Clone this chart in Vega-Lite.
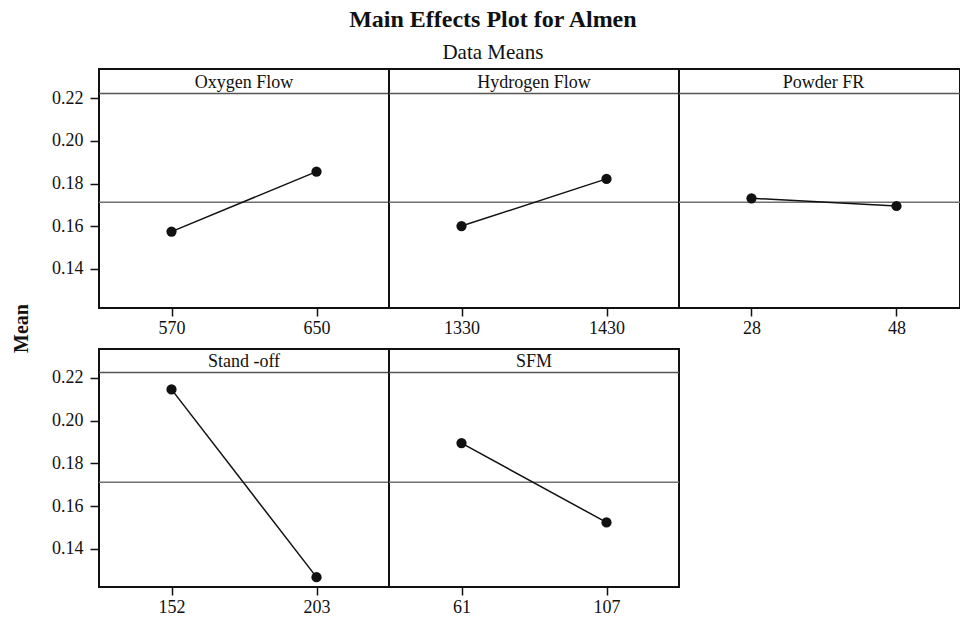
{
  "$schema": "https://vega.github.io/schema/vega-lite/v6.json",
  "padding": {"left": 10, "top": 8, "right": 0, "bottom": 0},
  "background": "white",
  "title": {"text": "Main Effects Plot for Almen", "subtitle": "Data Means", "font": "Liberation Serif", "fontSize": 24, "fontWeight": "bold", "color": "#111", "subtitleFont": "Liberation Serif", "subtitleFontSize": 21, "subtitleColor": "#111", "subtitlePadding": 10, "offset": 5, "anchor": "middle", "dx": 7},
  "datasets": {
    "effects": [
      {"factor": "Oxygen Flow", "level": 570, "mean": 0.1575},
      {"factor": "Oxygen Flow", "level": 650, "mean": 0.1856},
      {"factor": "Hydrogen Flow", "level": 1330, "mean": 0.1601},
      {"factor": "Hydrogen Flow", "level": 1430, "mean": 0.1822},
      {"factor": "Powder FR", "level": 28, "mean": 0.1731},
      {"factor": "Powder FR", "level": 48, "mean": 0.1695},
      {"factor": "Stand -off", "level": 152, "mean": 0.2146},
      {"factor": "Stand -off", "level": 203, "mean": 0.1268},
      {"factor": "SFM", "level": 61, "mean": 0.1895},
      {"factor": "SFM", "level": 107, "mean": 0.1524}
    ],
    "grand": [{"mean": 0.1712}],
    "panels": [{"factor": "Oxygen Flow"}, {"factor": "Hydrogen Flow"}, {"factor": "Powder FR"}, {"factor": "Stand -off"}, {"factor": "SFM"}]
  },
  "columns": 3,
  "spacing": {"row": 41, "column": 0},
  "bounds": "flush",
  "resolve": {"scale": {"x": "independent", "y": "independent"}},
  "concat": [
    {
      "width": 290, "height": 239,
      "layer": [
        {"data": {"name": "grand"}, "mark": {"type": "rule", "color": "#707070", "strokeWidth": 1.5},
         "encoding": {"y": {"field": "mean", "type": "quantitative", "scale": {"domain": [0.1217, 0.2337], "nice": false, "zero": false}, "axis": {"values": [0.14, 0.16, 0.18, 0.2, 0.22], "format": ".2f", "title": "Mean", "titleX": -78, "titleY": 259, "titleAngle": 270, "titleAlign": "center", "titleBaseline": "middle"}}}},
        {"data": {"name": "panels"}, "transform": [{"filter": "datum.factor === 'Oxygen Flow'"}], "mark": {"type": "rule", "color": "#555", "strokeWidth": 1.5},
         "encoding": {"y": {"datum": 0.2222, "type": "quantitative", "scale": {"domain": [0.1217, 0.2337], "nice": false, "zero": false}, "axis": {"values": [0.14, 0.16, 0.18, 0.2, 0.22], "format": ".2f", "title": "Mean", "titleX": -78, "titleY": 259, "titleAngle": 270, "titleAlign": "center", "titleBaseline": "middle"}}}},
        {"data": {"name": "panels"}, "transform": [{"filter": "datum.factor === 'Oxygen Flow'"}], "mark": {"type": "text", "font": "Liberation Serif", "fontSize": 18, "color": "#111", "baseline": "middle"},
         "encoding": {"y": {"datum": 0.2272, "type": "quantitative", "scale": {"domain": [0.1217, 0.2337], "nice": false, "zero": false}, "axis": {"values": [0.14, 0.16, 0.18, 0.2, 0.22], "format": ".2f", "title": "Mean", "titleX": -78, "titleY": 259, "titleAngle": 270, "titleAlign": "center", "titleBaseline": "middle"}}, "text": {"field": "factor"}}},
        {"data": {"name": "effects"}, "transform": [{"filter": "datum.factor === 'Oxygen Flow'"}], "mark": {"type": "line", "color": "#111", "strokeWidth": 1.5},
         "encoding": {"x": {"field": "level", "type": "ordinal", "scale": {"type": "point", "padding": 0.5}, "axis": {"title": null}},
                      "y": {"field": "mean", "type": "quantitative", "scale": {"domain": [0.1217, 0.2337], "nice": false, "zero": false}, "axis": {"values": [0.14, 0.16, 0.18, 0.2, 0.22], "format": ".2f", "title": "Mean", "titleX": -78, "titleY": 259, "titleAngle": 270, "titleAlign": "center", "titleBaseline": "middle"}}}},
        {"data": {"name": "effects"}, "transform": [{"filter": "datum.factor === 'Oxygen Flow'"}], "mark": {"type": "point", "filled": true, "color": "#111", "opacity": 1, "size": 105},
         "encoding": {"x": {"field": "level", "type": "ordinal", "scale": {"type": "point", "padding": 0.5}, "axis": {"title": null}},
                      "y": {"field": "mean", "type": "quantitative", "scale": {"domain": [0.1217, 0.2337], "nice": false, "zero": false}, "axis": {"values": [0.14, 0.16, 0.18, 0.2, 0.22], "format": ".2f", "title": "Mean", "titleX": -78, "titleY": 259, "titleAngle": 270, "titleAlign": "center", "titleBaseline": "middle"}}}}
      ]
    },
    {
      "width": 290, "height": 239,
      "layer": [
        {"data": {"name": "grand"}, "mark": {"type": "rule", "color": "#707070", "strokeWidth": 1.5},
         "encoding": {"y": {"field": "mean", "type": "quantitative", "scale": {"domain": [0.1217, 0.2337], "nice": false, "zero": false}, "axis": null}}},
        {"data": {"name": "panels"}, "transform": [{"filter": "datum.factor === 'Hydrogen Flow'"}], "mark": {"type": "rule", "color": "#555", "strokeWidth": 1.5},
         "encoding": {"y": {"datum": 0.2222, "type": "quantitative", "scale": {"domain": [0.1217, 0.2337], "nice": false, "zero": false}, "axis": null}}},
        {"data": {"name": "panels"}, "transform": [{"filter": "datum.factor === 'Hydrogen Flow'"}], "mark": {"type": "text", "font": "Liberation Serif", "fontSize": 18, "color": "#111", "baseline": "middle"},
         "encoding": {"y": {"datum": 0.2272, "type": "quantitative", "scale": {"domain": [0.1217, 0.2337], "nice": false, "zero": false}, "axis": null}, "text": {"field": "factor"}}},
        {"data": {"name": "effects"}, "transform": [{"filter": "datum.factor === 'Hydrogen Flow'"}], "mark": {"type": "line", "color": "#111", "strokeWidth": 1.5},
         "encoding": {"x": {"field": "level", "type": "ordinal", "scale": {"type": "point", "padding": 0.5}, "axis": {"title": null}},
                      "y": {"field": "mean", "type": "quantitative", "scale": {"domain": [0.1217, 0.2337], "nice": false, "zero": false}, "axis": null}}},
        {"data": {"name": "effects"}, "transform": [{"filter": "datum.factor === 'Hydrogen Flow'"}], "mark": {"type": "point", "filled": true, "color": "#111", "opacity": 1, "size": 105},
         "encoding": {"x": {"field": "level", "type": "ordinal", "scale": {"type": "point", "padding": 0.5}, "axis": {"title": null}},
                      "y": {"field": "mean", "type": "quantitative", "scale": {"domain": [0.1217, 0.2337], "nice": false, "zero": false}, "axis": null}}}
      ]
    },
    {
      "width": 281, "height": 239,
      "layer": [
        {"data": {"name": "grand"}, "mark": {"type": "rule", "color": "#707070", "strokeWidth": 1.5},
         "encoding": {"y": {"field": "mean", "type": "quantitative", "scale": {"domain": [0.1217, 0.2337], "nice": false, "zero": false}, "axis": null}}},
        {"data": {"name": "panels"}, "transform": [{"filter": "datum.factor === 'Powder FR'"}], "mark": {"type": "rule", "color": "#555", "strokeWidth": 1.5},
         "encoding": {"y": {"datum": 0.2222, "type": "quantitative", "scale": {"domain": [0.1217, 0.2337], "nice": false, "zero": false}, "axis": null}}},
        {"data": {"name": "panels"}, "transform": [{"filter": "datum.factor === 'Powder FR'"}], "mark": {"type": "text", "font": "Liberation Serif", "fontSize": 18, "color": "#111", "baseline": "middle", "dx": 4},
         "encoding": {"y": {"datum": 0.2272, "type": "quantitative", "scale": {"domain": [0.1217, 0.2337], "nice": false, "zero": false}, "axis": null}, "text": {"field": "factor"}}},
        {"data": {"name": "effects"}, "transform": [{"filter": "datum.factor === 'Powder FR'"}], "mark": {"type": "line", "color": "#111", "strokeWidth": 1.5},
         "encoding": {"x": {"field": "level", "type": "ordinal", "scale": {"type": "point", "padding": 0.469, "align": 0.533}, "axis": {"title": null}},
                      "y": {"field": "mean", "type": "quantitative", "scale": {"domain": [0.1217, 0.2337], "nice": false, "zero": false}, "axis": null}}},
        {"data": {"name": "effects"}, "transform": [{"filter": "datum.factor === 'Powder FR'"}], "mark": {"type": "point", "filled": true, "color": "#111", "opacity": 1, "size": 105},
         "encoding": {"x": {"field": "level", "type": "ordinal", "scale": {"type": "point", "padding": 0.469, "align": 0.533}, "axis": {"title": null}},
                      "y": {"field": "mean", "type": "quantitative", "scale": {"domain": [0.1217, 0.2337], "nice": false, "zero": false}, "axis": null}}}
      ]
    },
    {
      "width": 290, "height": 238,
      "layer": [
        {"data": {"name": "grand"}, "mark": {"type": "rule", "color": "#707070", "strokeWidth": 1.5},
         "encoding": {"y": {"field": "mean", "type": "quantitative", "scale": {"domain": [0.1222, 0.2335], "nice": false, "zero": false}, "axis": {"values": [0.14, 0.16, 0.18, 0.2, 0.22], "format": ".2f", "title": null}}}},
        {"data": {"name": "panels"}, "transform": [{"filter": "datum.factor === 'Stand -off'"}], "mark": {"type": "rule", "color": "#555", "strokeWidth": 1.5},
         "encoding": {"y": {"datum": 0.2225, "type": "quantitative", "scale": {"domain": [0.1222, 0.2335], "nice": false, "zero": false}, "axis": {"values": [0.14, 0.16, 0.18, 0.2, 0.22], "format": ".2f", "title": null}}}},
        {"data": {"name": "panels"}, "transform": [{"filter": "datum.factor === 'Stand -off'"}], "mark": {"type": "text", "font": "Liberation Serif", "fontSize": 18, "color": "#111", "baseline": "middle"},
         "encoding": {"y": {"datum": 0.2276, "type": "quantitative", "scale": {"domain": [0.1222, 0.2335], "nice": false, "zero": false}, "axis": {"values": [0.14, 0.16, 0.18, 0.2, 0.22], "format": ".2f", "title": null}}, "text": {"field": "factor"}}},
        {"data": {"name": "effects"}, "transform": [{"filter": "datum.factor === 'Stand -off'"}], "mark": {"type": "line", "color": "#111", "strokeWidth": 1.5},
         "encoding": {"x": {"field": "level", "type": "ordinal", "scale": {"type": "point", "padding": 0.5}, "axis": {"title": null}},
                      "y": {"field": "mean", "type": "quantitative", "scale": {"domain": [0.1222, 0.2335], "nice": false, "zero": false}, "axis": {"values": [0.14, 0.16, 0.18, 0.2, 0.22], "format": ".2f", "title": null}}}},
        {"data": {"name": "effects"}, "transform": [{"filter": "datum.factor === 'Stand -off'"}], "mark": {"type": "point", "filled": true, "color": "#111", "opacity": 1, "size": 105},
         "encoding": {"x": {"field": "level", "type": "ordinal", "scale": {"type": "point", "padding": 0.5}, "axis": {"title": null}},
                      "y": {"field": "mean", "type": "quantitative", "scale": {"domain": [0.1222, 0.2335], "nice": false, "zero": false}, "axis": {"values": [0.14, 0.16, 0.18, 0.2, 0.22], "format": ".2f", "title": null}}}}
      ]
    },
    {
      "width": 290, "height": 238,
      "layer": [
        {"data": {"name": "grand"}, "mark": {"type": "rule", "color": "#707070", "strokeWidth": 1.5},
         "encoding": {"y": {"field": "mean", "type": "quantitative", "scale": {"domain": [0.1222, 0.2335], "nice": false, "zero": false}, "axis": null}}},
        {"data": {"name": "panels"}, "transform": [{"filter": "datum.factor === 'SFM'"}], "mark": {"type": "rule", "color": "#555", "strokeWidth": 1.5},
         "encoding": {"y": {"datum": 0.2225, "type": "quantitative", "scale": {"domain": [0.1222, 0.2335], "nice": false, "zero": false}, "axis": null}}},
        {"data": {"name": "panels"}, "transform": [{"filter": "datum.factor === 'SFM'"}], "mark": {"type": "text", "font": "Liberation Serif", "fontSize": 18, "color": "#111", "baseline": "middle"},
         "encoding": {"y": {"datum": 0.2276, "type": "quantitative", "scale": {"domain": [0.1222, 0.2335], "nice": false, "zero": false}, "axis": null}, "text": {"field": "factor"}}},
        {"data": {"name": "effects"}, "transform": [{"filter": "datum.factor === 'SFM'"}], "mark": {"type": "line", "color": "#111", "strokeWidth": 1.5},
         "encoding": {"x": {"field": "level", "type": "ordinal", "scale": {"type": "point", "padding": 0.5}, "axis": {"title": null}},
                      "y": {"field": "mean", "type": "quantitative", "scale": {"domain": [0.1222, 0.2335], "nice": false, "zero": false}, "axis": null}}},
        {"data": {"name": "effects"}, "transform": [{"filter": "datum.factor === 'SFM'"}], "mark": {"type": "point", "filled": true, "color": "#111", "opacity": 1, "size": 105},
         "encoding": {"x": {"field": "level", "type": "ordinal", "scale": {"type": "point", "padding": 0.5}, "axis": {"title": null}},
                      "y": {"field": "mean", "type": "quantitative", "scale": {"domain": [0.1222, 0.2335], "nice": false, "zero": false}, "axis": null}}}
      ]
    }
  ],
  "config": {
    "view": {"stroke": "#111", "strokeWidth": 2},
    "axis": {"labelFont": "Liberation Serif", "labelFontSize": 18, "labelColor": "#111", "tickColor": "#111", "tickWidth": 1.5, "grid": false, "domain": false, "titleFont": "Liberation Serif", "titleFontSize": 20, "titleFontWeight": "bold", "titleColor": "#111"},
    "axisX": {"tickSize": 8, "labelPadding": 3, "labelAngle": 0},
    "axisY": {"tickSize": 9, "labelPadding": 7}
  }
}
